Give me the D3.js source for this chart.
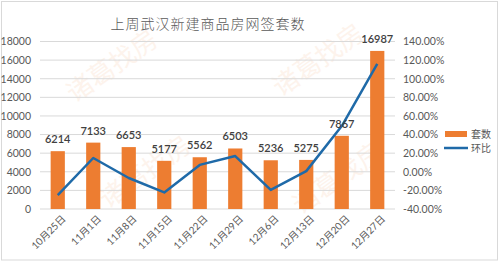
<!DOCTYPE html>
<html>
<head>
<meta charset="utf-8">
<script src="https://cdn.jsdelivr.net/npm/d3@7"></script>
<style>
  body { margin: 0; background: #fff; }
  text { font-family: Lato, "Noto Sans CJK SC", sans-serif; }
</style>
</head>
<body>
<div id="chart"></div>
<script>
// chart data
const weeks = ["10月25日", "11月1日", "11月8日", "11月15日", "11月22日", "11月29日", "12月6日", "12月13日", "12月20日", "12月27日"];
const units = [6214, 7133, 6653, 5177, 5562, 6503, 5236, 5275, 7867, 16987];
const changePct = [-25, 14.8, -6.7, -22.2, 7.4, 16.9, -19.5, 0.7, 49.1, 115.9];
const leftTicks = [0, 2000, 4000, 6000, 8000, 10000, 12000, 14000, 16000, 18000];
const rightTicks = [-40, -20, 0, 20, 40, 60, 80, 100, 120, 140];

const width = 500, height = 262;
const margins = { top: 41.5, right: 105, bottom: 53, left: 40 };

const svg = d3.select("#chart").append("svg")
    .attr("width", width)
    .attr("height", height);

// outer frame
svg.append("rect")
    .attr("x", 1.5).attr("y", 1.5)
    .attr("width", width - 4).attr("height", height - 3.5)
    .attr("fill", "#fff")
    .attr("stroke", "#d9d9d9");

const x = d3.scaleBand()
    .domain(weeks)
    .range([margins.left, width - margins.right])
    .paddingInner(0.6)
    .paddingOuter(0.3);

const yLeft = d3.scaleLinear()
    .domain([0, 18000])
    .range([height - margins.bottom, margins.top]);

const yRight = d3.scaleLinear()
    .domain([-40, 140])
    .range([height - margins.bottom, margins.top]);

// watermark
const marks = [[112, 66], [318, 60], [145, 172], [338, 178]];
svg.append("g").selectAll("text")
    .data(marks)
    .join("text")
    .attr("transform", d => `translate(${d[0]},${d[1]}) rotate(-35)`)
    .attr("text-anchor", "middle")
    .attr("dy", "0.35em")
    .attr("font-family", "Noto Sans CJK SC")
    .attr("font-size", 26)
    .attr("fill", "#f4b183")
    .attr("opacity", 0.15)
    .text("诸葛找房");

// title
svg.append("text")
    .attr("x", 208)
    .attr("y", 29)
    .attr("text-anchor", "middle")
    .attr("font-family", "Noto Sans CJK SC")
    .attr("font-weight", 300)
    .attr("font-size", 14)
    .attr("letter-spacing", 1)
    .attr("fill", "#595959")
    .text("上周武汉新建商品房网签套数");

// gridlines
svg.append("g").selectAll("line")
    .data(leftTicks)
    .join("line")
    .attr("x1", margins.left)
    .attr("x2", width - margins.right)
    .attr("y1", d => yLeft(d))
    .attr("y2", d => yLeft(d))
    .attr("stroke", "#d9d9d9")
    .attr("stroke-width", 1);

// left axis
const axisLeft = svg.append("g")
    .attr("transform", `translate(${margins.left - 6},0)`)
    .call(d3.axisLeft(yLeft).tickValues(leftTicks).tickSize(0).tickFormat(d3.format("d")));
axisLeft.select(".domain").remove();
axisLeft.selectAll("text")
    .attr("font-family", "Lato")
    .attr("font-size", 10.5)
    .attr("fill", "#595959");

// right axis
const axisRight = svg.append("g")
    .attr("transform", `translate(${width - margins.right + 5},0)`)
    .call(d3.axisRight(yRight).tickValues(rightTicks).tickSize(0).tickFormat(d => d.toFixed(2) + "%"));
axisRight.select(".domain").remove();
axisRight.selectAll("text")
    .attr("font-family", "Lato")
    .attr("font-size", 10.5)
    .attr("fill", "#595959");

// x labels, rotated
svg.append("g").selectAll("text")
    .data(weeks)
    .join("text")
    .attr("transform", d => `translate(${x(d) + x.bandwidth() / 2 + 6},${height - margins.bottom + 8}) rotate(-45)`)
    .attr("text-anchor", "end")
    .attr("dy", "0.35em")
    .attr("font-family", "Noto Sans CJK SC")
    .attr("font-size", 10)
    .attr("fill", "#595959")
    .text(d => d);

// bars
svg.append("g").selectAll("rect")
    .data(units)
    .join("rect")
    .attr("x", (d, i) => x(weeks[i]))
    .attr("y", d => yLeft(d))
    .attr("width", x.bandwidth())
    .attr("height", d => yLeft(0) - yLeft(d))
    .attr("fill", "#ed7d31");

// line
const line = d3.line()
    .x((d, i) => x(weeks[i]) + x.bandwidth() / 2)
    .y(d => yRight(d));

svg.append("path")
    .datum(changePct)
    .attr("d", line)
    .attr("fill", "none")
    .attr("stroke", "#1f6aa8")
    .attr("stroke-width", 2.5)
    .attr("stroke-linejoin", "round");

// bar value labels
svg.append("g").selectAll("text")
    .data(units)
    .join("text")
    .attr("x", (d, i) => x(weeks[i]) + x.bandwidth() / 2)
    .attr("y", d => yLeft(d) - 8)
    .attr("text-anchor", "middle")
    .attr("font-family", "Lato")
    .attr("font-weight", 600)
    .attr("font-size", 11)
    .attr("fill", "#404040")
    .text(d => d);

// legend
const legend = svg.append("g");
legend.append("rect")
    .attr("x", 445).attr("y", 131)
    .attr("width", 22).attr("height", 6)
    .attr("fill", "#ed7d31");
legend.append("line")
    .attr("x1", 444).attr("x2", 468)
    .attr("y1", 148).attr("y2", 148)
    .attr("stroke", "#1f6aa8")
    .attr("stroke-width", 2.5);
legend.selectAll("text")
    .data(["套数", "环比"])
    .join("text")
    .attr("x", 471)
    .attr("y", (d, i) => 134 + i * 14)
    .attr("dy", "0.35em")
    .attr("font-family", "Noto Sans CJK SC")
    .attr("font-size", 10)
    .attr("fill", "#595959")
    .text(d => d);
</script>
</body>
</html>
